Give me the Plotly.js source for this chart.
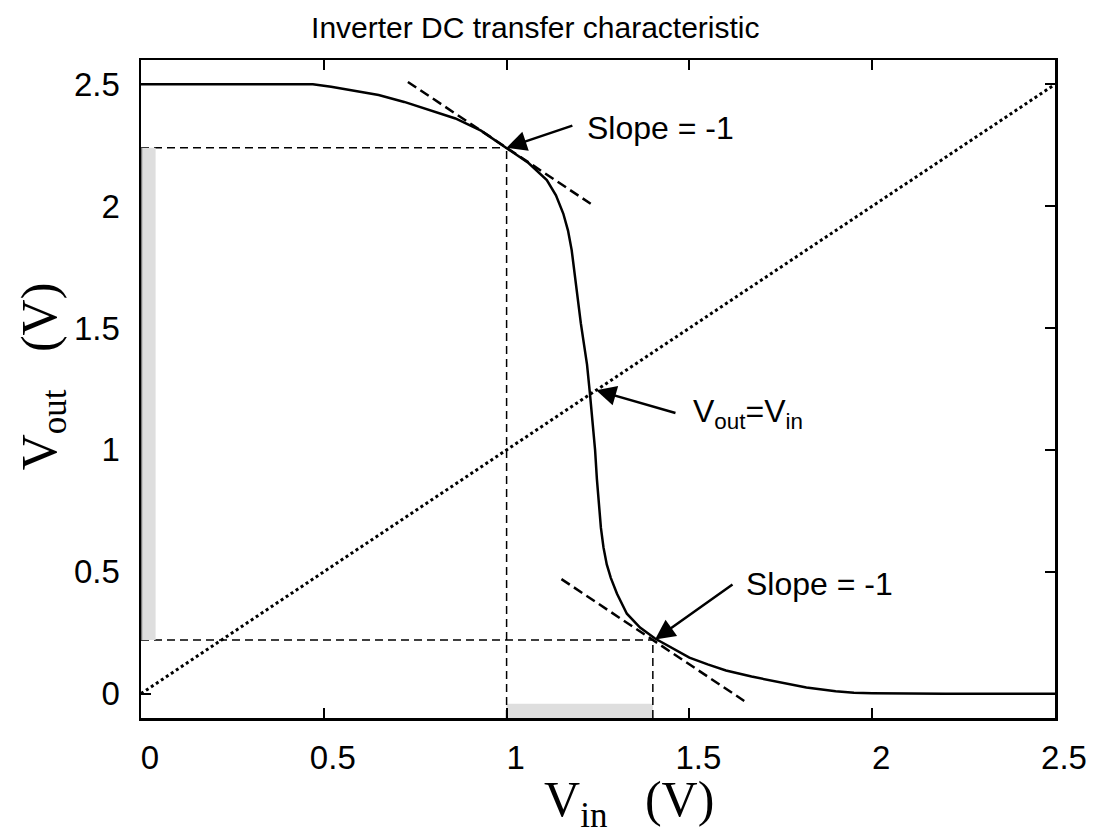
<!DOCTYPE html>
<html>
<head>
<meta charset="utf-8">
<script src="https://cdn.plot.ly/plotly-3.0.1.min.js"></script>
<style>html,body{margin:0;padding:0;background:#fff;}#chart{width:1106px;height:835px;}</style>
</head>
<body>
<div id="chart"></div>
<script>
// Inverter transfer curve
var vin = [0, 0.1, 0.2, 0.3, 0.4, 0.47, 0.52, 0.57, 0.65, 0.72, 0.79, 0.86, 0.93, 1.0, 1.06, 1.11, 1.135, 1.155, 1.168, 1.178, 1.186, 1.194, 1.203, 1.212, 1.22, 1.228, 1.236, 1.242, 1.247, 1.252, 1.258, 1.265, 1.274, 1.285, 1.302, 1.329, 1.365, 1.406, 1.45, 1.5, 1.55, 1.6, 1.67, 1.75, 1.82, 1.9, 1.95, 2.0, 2.08, 2.2, 2.35, 2.5];
var vout = [2.5, 2.5, 2.5, 2.5, 2.5, 2.5, 2.49, 2.476, 2.456, 2.428, 2.394, 2.36, 2.31, 2.24, 2.177, 2.107, 2.045, 1.97, 1.9, 1.82, 1.72, 1.62, 1.52, 1.43, 1.35, 1.23, 1.1, 1.0, 0.88, 0.77, 0.68, 0.6, 0.53, 0.475, 0.41, 0.328, 0.271, 0.226, 0.19, 0.148, 0.12, 0.095, 0.07, 0.045, 0.025, 0.01, 0.004, 0.002, 0, 0, 0, 0];

// Vout = Vin reference line
var diagX = [0, 2.5];
var diagY = [0, 2.5];

// Unity-gain points
var VIL = 1.0, VOH = 2.24;
var VIH = 1.4, VOL = 0.22;

// Tangent lines (slope -1)
var tanHiX = [0.73, 1.23];
var tanHiY = [2.51, 2.01];
var tanLoX = [1.15, 1.65];
var tanLoY = [0.47, -0.03];

// Axis ticks
var xTicks = [0, 0.5, 1, 1.5, 2, 2.5];
var xTickText = ['0', '0.5', '1', '1.5', '2', '2.5'];
var yTicks = [0, 0.5, 1, 1.5, 2, 2.5];
var yTickText = ['0', '0.5', '1', '1.5', '2', '2.5'];
var xRange = [0, 2.5];
var yRange = [-0.1, 2.6];

// Annotation positions: [headX, headY, tailX, tailY]
var arrowHi = [1.0, 2.24, 1.184, 2.333];
var arrowMid = [1.245, 1.245, 1.466, 1.15];
var arrowLo = [1.406, 0.222, 1.622, 0.452];
var labelHi = {x: 1.214, y: 2.32, text: 'Slope = -1'};
var labelMid = {x: 1.505, y: 1.15, text: 'V<sub>out</sub>=V<sub>in</sub>'};
var labelLo = {x: 1.649, y: 0.45, text: 'Slope = -1'};

var blk = '#000000';
var sans = 'Liberation Sans, Arial, sans-serif';
var serif = 'Liberation Serif, Times New Roman, serif';
var traces = [
  {x: [0, VIL], y: [VOH, VOH], mode: 'lines', line: {color: blk, width: 1.5, dash: '8px,5px'}, hoverinfo: 'skip'},
  {x: [VIL, VIL], y: [yRange[0], VOH], mode: 'lines', line: {color: blk, width: 1.5, dash: '8px,5px'}, hoverinfo: 'skip'},
  {x: [0, VIH], y: [VOL, VOL], mode: 'lines', line: {color: blk, width: 1.5, dash: '8px,5px'}, hoverinfo: 'skip'},
  {x: [VIH, VIH], y: [yRange[0], VOL], mode: 'lines', line: {color: blk, width: 1.5, dash: '8px,5px'}, hoverinfo: 'skip'},
  {x: diagX, y: diagY, mode: 'lines', line: {color: blk, width: 3, dash: '3px,3px'}},
  {x: tanHiX, y: tanHiY, mode: 'lines', line: {color: blk, width: 2.5, dash: '10px,5px'}},
  {x: tanLoX, y: tanLoY, mode: 'lines', line: {color: blk, width: 2.5, dash: '10px,5px'}},
  {x: vin, y: vout, mode: 'lines', line: {color: blk, width: 2.5}}
];

function arrow(a) {
  return {x: a[0], y: a[1], ax: a[2], ay: a[3], xref: 'x', yref: 'y', axref: 'x', ayref: 'y',
          text: '', showarrow: true, arrowhead: 2, arrowsize: 1.6, arrowwidth: 2.5, arrowcolor: blk, standoff: 0, startstandoff: 0};
}
function label(l) {
  return {x: l.x, y: l.y, xref: 'x', yref: 'y', text: l.text, showarrow: false, xanchor: 'left', yanchor: 'middle',
          font: {family: sans, size: 32, color: blk}};
}

var layout = {
  width: 1106, height: 835,
  margin: {l: 141, r: 51, t: 60, b: 117},
  paper_bgcolor: '#ffffff', plot_bgcolor: '#ffffff',
  showlegend: false,
  font: {family: sans, size: 33, color: blk},
  title: {text: 'Inverter DC transfer characteristic', x: 0.484, xref: 'container', xanchor: 'center',
          y: 0.967, yref: 'container', yanchor: 'middle',
          font: {family: sans, size: 30, color: blk}},
  xaxis: {range: xRange, tickvals: xTicks, ticktext: xTickText, ticks: 'inside', ticklen: 10, tickwidth: 2, tickcolor: blk,
          showline: true, linecolor: blk, linewidth: 2.5, mirror: 'ticks', showgrid: false, zeroline: false,
          ticklabelstandoff: 9, ticklabelshift: 9,
          tickfont: {family: sans, size: 33, color: blk},
          title: {text: '&nbsp;&nbsp;&nbsp;&nbsp;&nbsp;V<sub>in</sub>&nbsp;&nbsp;&nbsp;(V)', standoff: 4,
                  font: {family: serif, size: 50, color: blk}}},
  yaxis: {range: yRange, tickvals: yTicks, ticktext: yTickText, ticks: 'inside', ticklen: 10, tickwidth: 2, tickcolor: blk,
          showline: true, linecolor: blk, linewidth: 2.5, mirror: 'ticks', showgrid: false, zeroline: false,
          ticklabelstandoff: 12,
          tickfont: {family: sans, size: 33, color: blk},
          title: {text: '&nbsp;&nbsp;V<sub>out</sub>&nbsp;&nbsp;&nbsp;(V)', standoff: 0,
                  font: {family: serif, size: 50, color: blk}}},
  shapes: [
    {type: 'rect', xref: 'x', yref: 'y', x0: 0, x1: 0.04, y0: VOL, y1: VOH, fillcolor: '#dedede', line: {width: 0}, layer: 'above'},
    {type: 'line', xref: 'x', yref: 'y', x0: 0, x1: 0, y0: VOL, y1: VOH, line: {color: '#7a7a7a', width: 2.5}, layer: 'above'},
    {type: 'rect', xref: 'x', yref: 'y', x0: VIL, x1: VIH, y0: yRange[0], y1: -0.042, fillcolor: '#dedede', line: {width: 0}, layer: 'below'}
  ],
  annotations: [arrow(arrowHi), arrow(arrowMid), arrow(arrowLo), label(labelHi), label(labelMid), label(labelLo)]
};

Plotly.newPlot('chart', traces, layout, {displayModeBar: false, staticPlot: true});
</script>
</body>
</html>
